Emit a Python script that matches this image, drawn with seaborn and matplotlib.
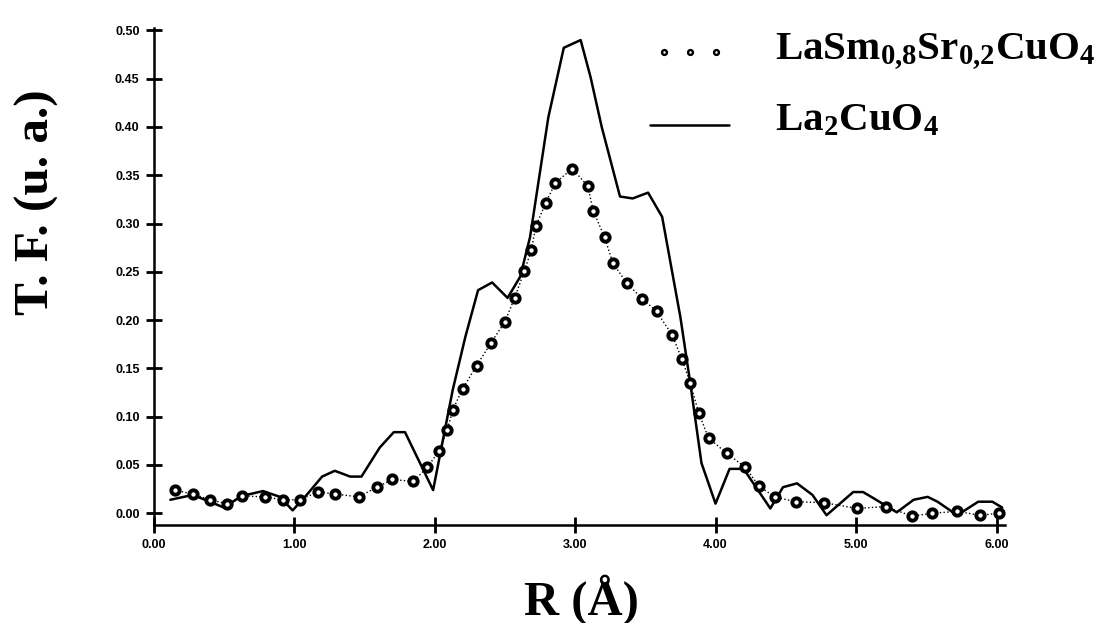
import numpy as np
import pandas as pd
import matplotlib
matplotlib.use('Agg')
import matplotlib.pyplot as plt
from matplotlib.lines import Line2D
from matplotlib.legend_handler import HandlerLine2D
import seaborn as sns

sns.set_style('white')
plt.rcParams['font.family'] = ['Liberation Serif', 'DejaVu Serif']
plt.rcParams['text.color'] = 'black'
plt.rcParams['axes.labelcolor'] = 'black'
plt.rcParams['xtick.color'] = 'black'
plt.rcParams['ytick.color'] = 'black'
plt.rcParams['mathtext.fontset'] = 'custom'
plt.rcParams['mathtext.rm'] = 'Liberation Serif:bold'
plt.rcParams['mathtext.bf'] = 'Liberation Serif:bold'
plt.rcParams['mathtext.it'] = 'Liberation Serif:bold'

# LaSm0.8Sr0.2CuO4 (circles)
r_sm = [0.15, 0.28, 0.40, 0.52, 0.63, 0.79, 0.92, 1.04, 1.17, 1.29, 1.46, 1.59,
        1.70, 1.85, 1.95, 2.03, 2.09, 2.13, 2.20, 2.30, 2.40, 2.50, 2.57, 2.64,
        2.69, 2.72, 2.79, 2.86, 2.98, 3.09, 3.13, 3.21, 3.27, 3.37, 3.48, 3.58,
        3.69, 3.76, 3.82, 3.88, 3.95, 4.08, 4.21, 4.31, 4.42, 4.57, 4.77, 5.01,
        5.21, 5.40, 5.54, 5.72, 5.88, 6.02]
tf_sm = [0.024, 0.020, 0.014, 0.010, 0.018, 0.017, 0.014, 0.014, 0.022, 0.020,
         0.017, 0.027, 0.035, 0.033, 0.048, 0.064, 0.086, 0.107, 0.129, 0.153,
         0.176, 0.198, 0.223, 0.251, 0.273, 0.297, 0.321, 0.342, 0.357, 0.339,
         0.313, 0.286, 0.259, 0.238, 0.222, 0.209, 0.185, 0.160, 0.135, 0.104,
         0.078, 0.062, 0.048, 0.028, 0.017, 0.012, 0.011, 0.005, 0.007, -0.003,
         0.000, 0.002, -0.002, 0.000]

# La2CuO4 (solid line)
r_la = [0.12, 0.28, 0.40, 0.50, 0.63, 0.78, 0.90, 0.99, 1.09, 1.20, 1.29, 1.40,
        1.48, 1.61, 1.71, 1.79, 1.99, 2.13, 2.22, 2.31, 2.41, 2.52, 2.61, 2.68,
        2.81, 2.92, 3.04, 3.11, 3.19, 3.32, 3.41, 3.52, 3.62, 3.75, 3.82, 3.90,
        4.00, 4.10, 4.20, 4.39, 4.48, 4.58, 4.69, 4.79, 4.98, 5.05, 5.12, 5.29,
        5.41, 5.51, 5.58, 5.72, 5.87, 5.97, 6.04]
tf_la = [0.014, 0.019, 0.012, 0.006, 0.018, 0.023, 0.017, 0.003, 0.019, 0.038,
         0.044, 0.038, 0.038, 0.068, 0.084, 0.084, 0.024, 0.128, 0.183, 0.231,
         0.239, 0.223, 0.245, 0.286, 0.410, 0.482, 0.490, 0.452, 0.400, 0.328,
         0.326, 0.332, 0.307, 0.203, 0.135, 0.052, 0.010, 0.046, 0.046, 0.005,
         0.027, 0.031, 0.019, -0.002, 0.022, 0.022, 0.016, 0.001, 0.014, 0.017,
         0.012, -0.002, 0.012, 0.012, 0.006]

label_sm = r'$\mathbf{LaSm_{0{,}8}Sr_{0{,}2}CuO_4}$'
label_la = r'$\mathbf{La_2CuO_4}$'

x_ticks = [0, 1, 2, 3, 4, 5, 6]
y_ticks = [0.00, 0.05, 0.10, 0.15, 0.20, 0.25, 0.30, 0.35, 0.40, 0.45, 0.50]


class ShiftedHandler(HandlerLine2D):
    # legend handle drawn a bit lower than the text centre, as in the scan
    def __init__(self, dy=0, **kw):
        super().__init__(**kw)
        self.dy = dy

    def create_artists(self, legend, orig_handle, xdescent, ydescent,
                       width, height, fontsize, trans):
        artists = super().create_artists(legend, orig_handle, xdescent,
                                         ydescent, width, height, fontsize, trans)
        for a in artists:
            a.set_ydata(np.asarray(a.get_ydata()) - self.dy)
        return artists


df_sm = pd.DataFrame({'R': r_sm, 'TF': tf_sm})
df_la = pd.DataFrame({'R': r_la, 'TF': tf_la})

fig = plt.figure(figsize=(11.18, 6.23), dpi=100)
ax = fig.add_axes([0.1373, 0.1575, 0.7616, 0.7968])

sns.lineplot(data=df_la, x='R', y='TF', ax=ax, color='black', lw=1.8,
             sort=False, estimator=None)
sns.lineplot(data=df_sm, x='R', y='TF', ax=ax, color='black', lw=1.0,
             linestyle=':', marker='o', markersize=6, markerfacecolor='white',
             markeredgecolor='black', markeredgewidth=2.8,
             sort=False, estimator=None)

ax.set_xlim(0, 6.06)
ax.set_ylim(-0.012, 0.502)
ax.set_xticks(x_ticks)
ax.set_xticklabels([f'{v:.2f}' for v in x_ticks])
ax.set_yticks(y_ticks)
ax.set_yticklabels([f'{v:.2f}' for v in y_ticks])
ax.tick_params(axis='both', direction='inout', length=12, width=2.0,
               color='black', labelcolor='black', labelsize=9, pad=4,
               bottom=True, left=True)
for lab in ax.get_xticklabels() + ax.get_yticklabels():
    lab.set_fontfamily('Liberation Sans')
    lab.set_fontweight('bold')

sns.despine(ax=ax)
for side in ['left', 'bottom']:
    ax.spines[side].set_linewidth(1.8)
    ax.spines[side].set_color('black')

ax.set_xlabel('R (Å)', fontsize=35, fontweight='bold')
ax.xaxis.set_label_coords(0.503, -0.099)
ax.set_ylabel('T. F. (u. a.)', fontsize=35.5, fontweight='bold')
ax.yaxis.set_label_coords(-0.1115, 0.65)

h_sm = Line2D([], [], linestyle='none', marker='o', markersize=3.5,
              markerfacecolor='white', markeredgecolor='black',
              markeredgewidth=1.7)
h_la = Line2D([], [], color='black', lw=1.8)
fig.legend([h_sm, h_la], [label_sm, label_la], loc='upper left',
           bbox_to_anchor=(0.5814, 0.950), frameon=False, fontsize=29.5,
           handlelength=1.94, handletextpad=1.12,
           labelspacing=0.72, borderpad=0, borderaxespad=0,
           handler_map={h_sm: ShiftedHandler(dy=5, numpoints=3, marker_pad=0.33),
                        h_la: ShiftedHandler(dy=6, numpoints=2, marker_pad=0)})

fig.savefig('out.png', dpi=100)
